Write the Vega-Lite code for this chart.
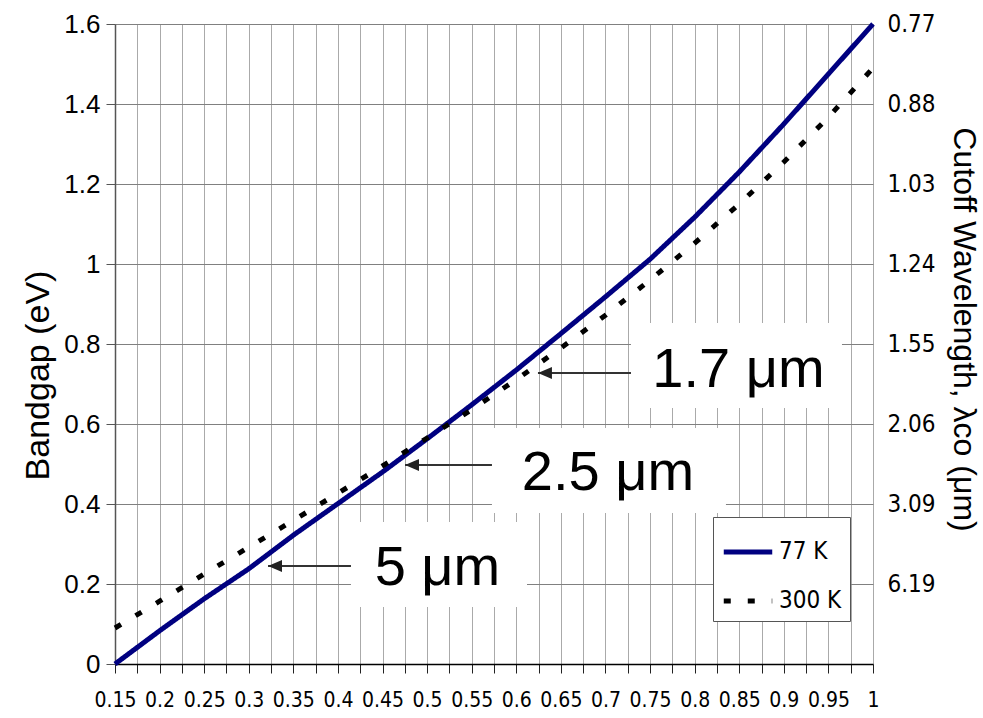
{
  "$schema": "https://vega.github.io/schema/vega-lite/v6.json",
  "width": 758,
  "height": 640,
  "autosize": {"type": "none"},
  "padding": {"left": 115, "top": 24, "right": 110, "bottom": 54},
  "background": "white",
  "config": {
    "view": {"stroke": null},
    "axis": {"labelColor": "black", "titleColor": "black", "titleFontWeight": "normal", "titleFont": "Liberation Sans"},
    "axisBottom": {
      "title": null, "tickCount": 50,
      "labelOverlap": false, "labelFlush": false,
      "labelFont": "Liberation Sans Narrow, DejaVu Sans Condensed, Liberation Sans, sans-serif", "labelFontSize": 21, "labelPadding": 16,
      "tickSize": 9, "tickColor": "#222222", "domainColor": "#000000", "domainWidth": 1.5,
      "grid": true, "gridColor": "#aaaaaa", "gridWidth": 1, "gridOpacity": 1
    }
  },
  "datasets": {
    "curves": [
      {"x": 0.15, "Eg": 0.0, "series": "77 K"},
      {"x": 0.2, "Eg": 0.083, "series": "77 K"},
      {"x": 0.25, "Eg": 0.163, "series": "77 K"},
      {"x": 0.3, "Eg": 0.238, "series": "77 K"},
      {"x": 0.35, "Eg": 0.322, "series": "77 K"},
      {"x": 0.4, "Eg": 0.401, "series": "77 K"},
      {"x": 0.45, "Eg": 0.48, "series": "77 K"},
      {"x": 0.5, "Eg": 0.563, "series": "77 K"},
      {"x": 0.55, "Eg": 0.648, "series": "77 K"},
      {"x": 0.6, "Eg": 0.735, "series": "77 K"},
      {"x": 0.65, "Eg": 0.826, "series": "77 K"},
      {"x": 0.7, "Eg": 0.918, "series": "77 K"},
      {"x": 0.75, "Eg": 1.012, "series": "77 K"},
      {"x": 0.8, "Eg": 1.117, "series": "77 K"},
      {"x": 0.85, "Eg": 1.23, "series": "77 K"},
      {"x": 0.9, "Eg": 1.35, "series": "77 K"},
      {"x": 0.95, "Eg": 1.475, "series": "77 K"},
      {"x": 1.0, "Eg": 1.6, "series": "77 K"},
      {"x": 0.15, "Eg": 0.09, "series": "300 K"},
      {"x": 0.2, "Eg": 0.157, "series": "300 K"},
      {"x": 0.25, "Eg": 0.225, "series": "300 K"},
      {"x": 0.3, "Eg": 0.292, "series": "300 K"},
      {"x": 0.35, "Eg": 0.359, "series": "300 K"},
      {"x": 0.4, "Eg": 0.427, "series": "300 K"},
      {"x": 0.45, "Eg": 0.495, "series": "300 K"},
      {"x": 0.5, "Eg": 0.565, "series": "300 K"},
      {"x": 0.55, "Eg": 0.636, "series": "300 K"},
      {"x": 0.6, "Eg": 0.711, "series": "300 K"},
      {"x": 0.65, "Eg": 0.79, "series": "300 K"},
      {"x": 0.7, "Eg": 0.872, "series": "300 K"},
      {"x": 0.75, "Eg": 0.96, "series": "300 K"},
      {"x": 0.8, "Eg": 1.052, "series": "300 K"},
      {"x": 0.85, "Eg": 1.15, "series": "300 K"},
      {"x": 0.9, "Eg": 1.255, "series": "300 K"},
      {"x": 0.95, "Eg": 1.367, "series": "300 K"},
      {"x": 1.0, "Eg": 1.49, "series": "300 K"}
    ],
    "notes": [
      {"label": "1.7 μm", "bx1": 0.7286, "bx2": 0.9652, "by1": 0.64, "by2": 0.8525, "tx": 0.8491, "ty": 0.6925, "tipx": 0.6243, "ay": 0.7275},
      {"label": "2.5 μm", "bx1": 0.5727, "bx2": 0.8351, "by1": 0.3775, "by2": 0.59, "tx": 0.7028, "ty": 0.435, "tipx": 0.4752, "ay": 0.4975},
      {"label": "5 μm", "bx1": 0.4146, "bx2": 0.612, "by1": 0.1425, "by2": 0.355, "tx": 0.5116, "ty": 0.1975, "tipx": 0.3216, "ay": 0.245}
    ]
  },
  "layer": [
    {
      "data": {"name": "curves"},
      "mark": {"type": "line", "strokeWidth": 5, "strokeCap": "butt", "strokeJoin": "round"},
      "encoding": {
        "x": {
          "field": "x", "type": "quantitative",
          "scale": {"domain": [0.15, 1], "nice": false, "zero": false},
          "axis": {
            "title": null, "tickCount": 50,
            "values": [0.15,0.175,0.2,0.225,0.25,0.275,0.3,0.325,0.35,0.375,0.4,0.425,0.45,0.475,0.5,0.525,0.55,0.575,0.6,0.625,0.65,0.675,0.7,0.725,0.75,0.775,0.8,0.825,0.85,0.875,0.9,0.925,0.95,0.975,1],
            "labelExpr": "round(datum.value*40) % 2 == 0 ? format(datum.value, '.2~f') : ''"
          }
        },
        "y": {
          "field": "Eg", "type": "quantitative",
          "scale": {"domain": [0, 1.6], "nice": false, "zero": false},
          "axis": {
            "orient": "left",
            "values": [0,0.2,0.4,0.6,0.8,1,1.2,1.4,1.6],
            "format": ".1~f",
            "labelFont": "Liberation Sans", "labelFontSize": 26, "labelPadding": 6,
            "tickSize": 9, "tickColor": "#555555", "domainColor": "#555555", "domainWidth": 1.5,
            "grid": true, "gridColor": "#808080", "gridWidth": 1, "gridOpacity": 1,
            "title": "Bandgap (eV)", "titleFontSize": 34,
            "titleX": -77, "titleY": 351, "titleAlign": "center", "titleBaseline": "middle", "titleAngle": -90
          }
        },
        "color": {
          "field": "series", "type": "nominal",
          "scale": {"domain": ["77 K", "300 K"], "range": ["#000080", "#000000"]},
          "legend": {
            "title": null, "orient": "none", "legendX": 598, "legendY": 493,
            "symbolType": "stroke", "symbolSize": 2350, "symbolStrokeWidth": 5,
            "labelFont": "Liberation Sans Narrow, DejaVu Sans Condensed, Liberation Sans, sans-serif", "labelFontSize": 24, "labelColor": "black",
            "padding": 8, "rowPadding": 10, "labelOffset": 4,
            "strokeColor": "#555555", "fillColor": "white"
          }
        },
        "strokeDash": {
          "field": "series", "type": "nominal",
          "scale": {"domain": ["77 K", "300 K"], "range": [[1, 0], [7, 17]]},
          "legend": {
            "title": null, "orient": "none", "legendX": 598, "legendY": 493,
            "symbolType": "stroke", "symbolSize": 2350, "symbolStrokeWidth": 5,
            "labelFont": "Liberation Sans Narrow, DejaVu Sans Condensed, Liberation Sans, sans-serif", "labelFontSize": 24, "labelColor": "black",
            "padding": 8, "rowPadding": 10, "labelOffset": 4,
            "strokeColor": "#555555", "fillColor": "white"
          }
        }
      }
    },
    {
      "data": {"name": "notes"},
      "mark": {"type": "rect", "fill": "white", "stroke": null},
      "encoding": {
        "x": {"field": "bx1", "type": "quantitative", "scale": {"domain": [0.15, 1], "nice": false, "zero": false},
          "axis": {
            "title": null, "tickCount": 50,
            "values": [0.15,0.175,0.2,0.225,0.25,0.275,0.3,0.325,0.35,0.375,0.4,0.425,0.45,0.475,0.5,0.525,0.55,0.575,0.6,0.625,0.65,0.675,0.7,0.725,0.75,0.775,0.8,0.825,0.85,0.875,0.9,0.925,0.95,0.975,1],
            "labelExpr": "round(datum.value*40) % 2 == 0 ? format(datum.value, '.2~f') : ''"
          }},
        "x2": {"field": "bx2"},
        "y": {
          "field": "by1", "type": "quantitative",
          "scale": {"domain": [0, 1.6], "nice": false, "zero": false},
          "axis": {
            "orient": "right",
            "values": [0.2,0.4,0.6,0.8,1,1.2,1.4,1.6],
            "labelExpr": "round(datum.value*10) == 2 ? '6.19' : round(datum.value*10) == 4 ? '3.09' : round(datum.value*10) == 6 ? '2.06' : round(datum.value*10) == 8 ? '1.55' : round(datum.value*10) == 10 ? '1.24' : round(datum.value*10) == 12 ? '1.03' : round(datum.value*10) == 14 ? '0.88' : '0.77'",
            "domain": false, "ticks": false, "grid": false,
            "labelFont": "Liberation Sans Narrow, DejaVu Sans Condensed, Liberation Sans, sans-serif", "labelFontSize": 24, "labelPadding": 14,
            "title": "Cutoff Wavelength, λco (μm)", "titleFontSize": 32,
            "titleX": 90, "titleY": 305, "titleAlign": "center", "titleBaseline": "middle", "titleAngle": 90
          }
        },
        "y2": {"field": "by2"}
      }
    },
    {
      "data": {"name": "notes"},
      "mark": {"type": "rule", "color": "#333333", "strokeWidth": 2},
      "encoding": {
        "x": {"field": "tipx", "type": "quantitative", "scale": {"domain": [0.15, 1], "nice": false, "zero": false},
          "axis": {
            "title": null, "tickCount": 50,
            "values": [0.15,0.175,0.2,0.225,0.25,0.275,0.3,0.325,0.35,0.375,0.4,0.425,0.45,0.475,0.5,0.525,0.55,0.575,0.6,0.625,0.65,0.675,0.7,0.725,0.75,0.775,0.8,0.825,0.85,0.875,0.9,0.925,0.95,0.975,1],
            "labelExpr": "round(datum.value*40) % 2 == 0 ? format(datum.value, '.2~f') : ''"
          }},
        "x2": {"field": "bx1"},
        "y": {"field": "ay", "type": "quantitative", "scale": {"domain": [0, 1.6], "nice": false, "zero": false}, "axis": null}
      }
    },
    {
      "data": {"name": "notes"},
      "mark": {"type": "point", "shape": "M0,0L2,-0.85L2,0.85Z", "filled": true, "color": "#222222", "opacity": 1, "size": 196},
      "encoding": {
        "x": {"field": "tipx", "type": "quantitative", "scale": {"domain": [0.15, 1], "nice": false, "zero": false},
          "axis": {
            "title": null, "tickCount": 50,
            "values": [0.15,0.175,0.2,0.225,0.25,0.275,0.3,0.325,0.35,0.375,0.4,0.425,0.45,0.475,0.5,0.525,0.55,0.575,0.6,0.625,0.65,0.675,0.7,0.725,0.75,0.775,0.8,0.825,0.85,0.875,0.9,0.925,0.95,0.975,1],
            "labelExpr": "round(datum.value*40) % 2 == 0 ? format(datum.value, '.2~f') : ''"
          }},
        "y": {"field": "ay", "type": "quantitative", "scale": {"domain": [0, 1.6], "nice": false, "zero": false}, "axis": null}
      }
    },
    {
      "data": {"name": "notes"},
      "mark": {"type": "text", "font": "Liberation Sans", "fontSize": 56, "align": "center", "baseline": "alphabetic", "color": "black"},
      "encoding": {
        "x": {"field": "tx", "type": "quantitative", "scale": {"domain": [0.15, 1], "nice": false, "zero": false},
          "axis": {
            "title": null, "tickCount": 50,
            "values": [0.15,0.175,0.2,0.225,0.25,0.275,0.3,0.325,0.35,0.375,0.4,0.425,0.45,0.475,0.5,0.525,0.55,0.575,0.6,0.625,0.65,0.675,0.7,0.725,0.75,0.775,0.8,0.825,0.85,0.875,0.9,0.925,0.95,0.975,1],
            "labelExpr": "round(datum.value*40) % 2 == 0 ? format(datum.value, '.2~f') : ''"
          }},
        "y": {"field": "ty", "type": "quantitative", "scale": {"domain": [0, 1.6], "nice": false, "zero": false}, "axis": null},
        "text": {"field": "label"}
      }
    }
  ],
  "resolve": {"axis": {"x": "shared", "y": "independent"}}
}
